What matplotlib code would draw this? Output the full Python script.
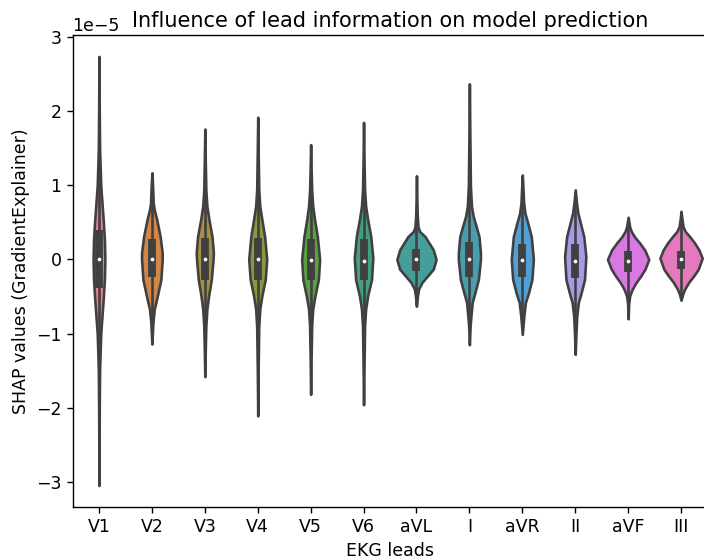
import colorsys
import numpy as np
import matplotlib
matplotlib.use('Agg')
import matplotlib.pyplot as plt
import seaborn as sns

# SHAP value profiles per EKG lead (values in units of 1e-5)
leads = ['V1', 'V2', 'V3', 'V4', 'V5', 'V6', 'aVL', 'I', 'aVR', 'II', 'aVF', 'III']

# y positions along each violin and the (relative) density at those positions
prof_y = {
    'V1': [-3.05, -2.0, -1.5, -1.0, -0.75, -0.5, -0.25, 0, 0.25, 0.5, 0.75, 1.0, 1.5, 2.0, 2.74],
    'V2': [-1.14, -0.85, -0.67, -0.49, -0.27, 0, 0.09, 0.31, 0.54, 0.67, 0.76, 0.99, 1.17],
    'V3': [-1.58, -1.2, -0.9, -0.67, -0.49, -0.27, 0, 0.09, 0.31, 0.54, 0.72, 0.94, 1.3, 1.76],
    'V4': [-2.11, -1.5, -0.9, -0.67, -0.49, -0.27, 0, 0.31, 0.54, 0.72, 0.94, 1.4, 1.92],
    'V5': [-1.82, -1.3, -0.9, -0.67, -0.49, -0.27, 0, 0.31, 0.54, 0.72, 0.94, 1.2, 1.55],
    'V6': [-1.96, -1.4, -0.9, -0.67, -0.49, -0.27, 0.02, 0.31, 0.54, 0.72, 0.94, 1.3, 1.85],
    'aVL': [-0.63, -0.49, -0.4, -0.31, -0.22, -0.13, 0, 0.13, 0.22, 0.31, 0.38, 0.44, 0.6, 0.8, 1.13],
    'I': [-1.15, -0.9, -0.76, -0.58, -0.45, -0.27, 0.0, 0.09, 0.31, 0.44, 0.58, 0.72, 0.99, 1.6, 2.37],
    'aVR': [-1.01, -0.76, -0.58, -0.45, -0.27, 0, 0.31, 0.49, 0.63, 0.76, 0.95, 1.14],
    'II': [-1.28, -1.0, -0.76, -0.58, -0.45, -0.27, 0.04, 0.31, 0.49, 0.63, 0.76, 0.94],
    'aVF': [-0.80, -0.6, -0.49, -0.40, -0.31, -0.22, -0.13, 0, 0.13, 0.22, 0.31, 0.38, 0.44, 0.57],
    'III': [-0.55, -0.47, -0.40, -0.31, -0.22, -0.13, 0.02, 0.13, 0.22, 0.31, 0.38, 0.44, 0.55, 0.65],
}
prof_d = {
    'V1': [0, 0.3, 0.6, 1.7, 3.0, 4.3, 5.3, 5.7, 5.3, 4.3, 3.0, 1.7, 0.6, 0.3, 0],
    'V2': [0, 1.0, 2.3, 5.3, 8.7, 10, 10, 8, 4.7, 2.3, 1.3, 0.7, 0],
    'V3': [0, 0.5, 1, 2, 3.7, 6.3, 8.0, 8.3, 7, 4, 2, 1, 0.5, 0],
    'V4': [0, 0.4, 1, 2, 4, 7.3, 8.7, 6.7, 4, 2, 1, 0.5, 0],
    'V5': [0, 0.5, 1, 2, 4.2, 7.5, 8.7, 6.5, 3.8, 2, 1, 0.5, 0],
    'V6': [0, 0.5, 1, 2, 4, 7.7, 9, 7, 4, 2, 1, 0.5, 0],
    'aVL': [0, 1, 2, 5.3, 10.8, 16.3, 19, 16.3, 12.3, 8.3, 3, 1.5, 0.7, 0.4, 0],
    'I': [0, 0.7, 1.5, 2.7, 5.3, 8.7, 10.7, 10.7, 9.3, 6.7, 3.7, 2, 1, 0.5, 0],
    'aVR': [0, 1.5, 3, 6, 9.3, 10.7, 8.7, 5.3, 2.5, 1.3, 0.7, 0],
    'II': [0, 0.7, 1.5, 3, 5.7, 9, 10.3, 8.3, 5, 2.5, 1.3, 0],
    'aVF': [0, 0.5, 1.5, 4, 7.7, 12.3, 16.3, 20, 16, 11.3, 6, 3, 1.5, 0],
    'III': [0, 1.5, 3.5, 7.3, 12.3, 16.7, 20.5, 17.3, 13.3, 8.3, 4, 2, 0.8, 0],
}

q25 = [-0.38, -0.24, -0.27, -0.28, -0.27, -0.28, -0.16, -0.24, -0.24, -0.25, -0.17, -0.13]
medians = [0, 0.01, 0, 0, -0.01, -0.02, 0, 0, -0.01, -0.02, -0.02, 0]
q75 = [0.40, 0.28, 0.29, 0.29, 0.28, 0.28, 0.14, 0.23, 0.21, 0.21, 0.12, 0.12]

scale = 1e-5


def main():
    plt.rcParams.update({
        'font.size': 12.5,
        'axes.labelsize': 12.5,
        'axes.titlesize': 15,
        'xtick.labelsize': 12.5,
        'ytick.labelsize': 12.5,
        'axes.linewidth': 1.0,
        'xtick.major.width': 1.0,
        'ytick.major.width': 1.0,
        'xtick.major.size': 4.4,
        'ytick.major.size': 4.4,
    })

    colors = [sns.desaturate(c, 0.75) for c in sns.color_palette('husl', len(leads))]
    lum = min(colorsys.rgb_to_hls(*c)[1] for c in colors) * 0.6
    gray = (lum, lum, lum)
    lw = 1.875

    fig = plt.figure(figsize=(7.04, 5.6), dpi=100)
    ax = fig.add_axes([0.103, 0.0946, 0.902, 0.843])

    # scale='area': the densest violin gets the full width 0.8
    peak = max(max(prof_d[k]) for k in leads)
    vpstats = []
    widths = []
    for k in leads:
        y = np.array(prof_y[k]) * scale
        d = np.array(prof_d[k], dtype=float)
        vpstats.append({'coords': y, 'vals': d, 'mean': np.mean(y), 'median': 0.0,
                        'min': y.min(), 'max': y.max()})
        widths.append(0.8 * d.max() / peak)

    pos = np.arange(len(leads))
    parts = ax.violin(vpstats, positions=pos, widths=widths,
                      showmeans=False, showextrema=False, showmedians=False)
    for body, c in zip(parts['bodies'], colors):
        body.set_facecolor(c)
        body.set_edgecolor(gray)
        body.set_linewidth(lw)
        body.set_alpha(1)
        body.set_joinstyle('round')
        body.set_capstyle('round')

    # inner box: whiskers, IQR bar and median dot
    for i, k in enumerate(leads):
        y = np.array(prof_y[k])
        iqr = q75[i] - q25[i]
        lo = max(q25[i] - 1.5 * iqr, y.min())
        hi = min(q75[i] + 1.5 * iqr, y.max())
        ax.plot([i, i], [lo * scale, hi * scale], color=gray, lw=lw, solid_capstyle='butt')
        ax.plot([i, i], [q25[i] * scale, q75[i] * scale], color=gray, lw=lw * 3,
                solid_capstyle='butt')
    ax.scatter(pos, np.array(medians) * scale, zorder=3, color='white',
               edgecolor=gray, s=(lw * 2) ** 2)

    ax.set_xticks(pos)
    ax.set_xticklabels(leads)
    ax.set_xlim(-0.5, len(leads) - 0.5)
    ax.set_xlabel('EKG leads')
    ax.set_ylabel('SHAP values (GradientExplainer)')
    ax.set_title('Influence of lead information on model prediction')

    fig.savefig('out.png', dpi=100)


if __name__ == '__main__':
    main()
